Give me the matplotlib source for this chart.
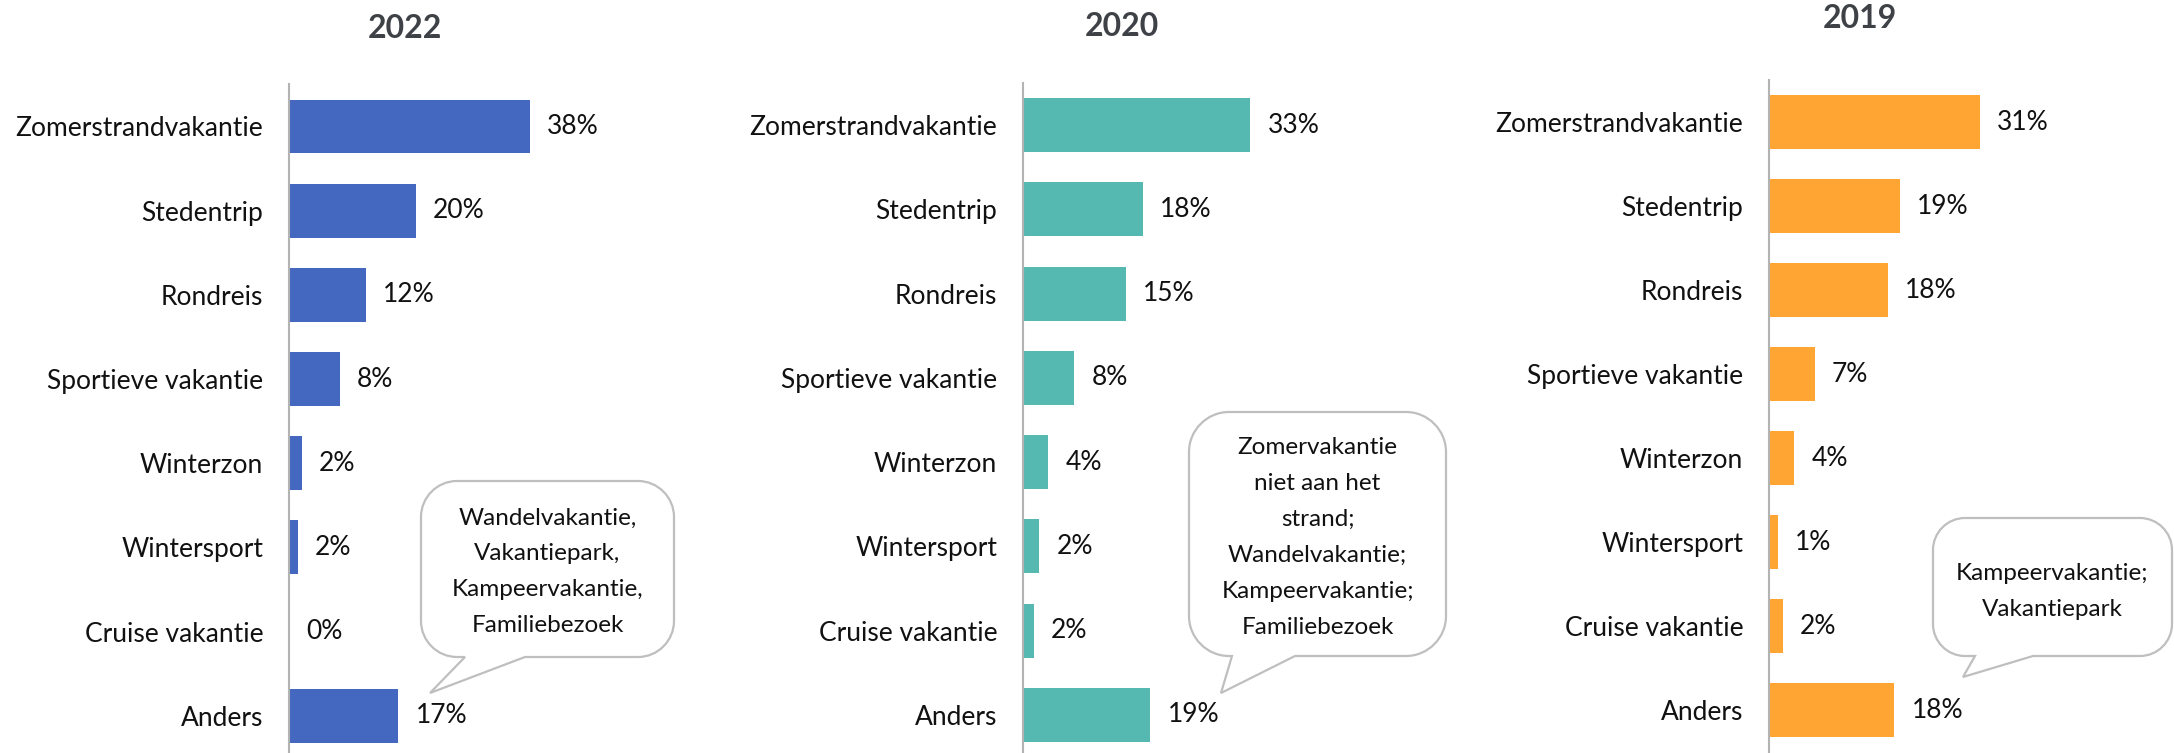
import numpy as np
import matplotlib
matplotlib.use("Agg")
import matplotlib.pyplot as plt
from matplotlib.path import Path
from matplotlib.patches import PathPatch

plt.rcParams['font.family'] = ['Lato', 'DejaVu Sans']

W, H = 2174, 753

categories = ['Zomerstrandvakantie', 'Stedentrip', 'Rondreis', 'Sportieve vakantie',
              'Winterzon', 'Wintersport', 'Cruise vakantie', 'Anders']

# bar lengths (percent), and the printed labels
vals_2022 = [38.0, 20.0, 12.1, 8.0, 2.0, 1.4, 0.0, 17.2]
labels_2022 = [38, 20, 12, 8, 2, 2, 0, 17]
vals_2020 = [33.4, 17.6, 15.1, 7.5, 3.7, 2.4, 1.6, 18.7]
labels_2020 = [33, 18, 15, 8, 4, 2, 2, 19]
vals_2019 = [31.0, 19.2, 17.5, 6.7, 3.7, 1.3, 2.0, 18.4]
labels_2019 = [31, 19, 18, 7, 4, 1, 2, 18]

notes_2022 = ['Wandelvakantie,', 'Vakantiepark,', 'Kampeervakantie,', 'Familiebezoek']
notes_2020 = ['Zomervakantie', 'niet aan het', 'strand;', 'Wandelvakantie;',
              'Kampeervakantie;', 'Familiebezoek']
notes_2019 = ['Kampeervakantie;', 'Vakantiepark']

fig = plt.figure(figsize=(W / 100, H / 100), dpi=100)

# layout of each panel in pixels: axis x, px per %, top, bottom, title pos
panels = [
    ('2022', vals_2022, labels_2022, '#4468BF', 289, 6.34, 84.4, 757.8, (405, 29)),
    ('2020', vals_2020, labels_2020, '#56B9B1', 1023, 6.80, 83.0, 757.0, (1122, 27)),
    ('2019', vals_2019, labels_2019, '#FFA533', 1769, 6.80, 80.0, 752.0, (1860, 18)),
]

for title, vals, labs, color, x0, scale, top, bottom, tpos in panels:
    wpx = 330
    ax = fig.add_axes([x0 / W, 1 - bottom / H, wpx / W, (bottom - top) / H])
    y = np.arange(len(categories))
    ax.barh(y, vals, height=0.64, color=color)
    ax.set_xlim(0, wpx / scale)
    ax.set_ylim(len(categories) - 0.5, -0.5)
    ax.set_yticks(y)
    ax.set_yticklabels(categories, fontsize=19, color='#111111')
    ax.tick_params(axis='y', length=0, pad=18.5)
    ax.set_xticks([])
    for s in ['top', 'right', 'bottom']:
        ax.spines[s].set_visible(False)
    ax.spines['left'].set_color('#B3B3B3')
    ax.spines['left'].set_linewidth(1.5)
    ax.patch.set_alpha(0)
    for v, l, yy in zip(vals, labs, y):
        ax.annotate(f'{l}%', (v, yy), xytext=(12.5, 0), textcoords='offset points',
                    va='center', ha='left', fontsize=19, color='#111111')
    fig.text(tpos[0] / W, 1 - tpos[1] / H, title, ha='center', va='center',
             fontsize=23, fontweight='bold', color='#3E4247')

# overlay in pixel coordinates for the speech bubbles
ov = fig.add_axes([0, 0, 1, 1], zorder=10)
ov.set_xlim(0, W)
ov.set_ylim(H, 0)
ov.axis('off')
ov.patch.set_alpha(0)


def bubble(left, top, right, bottom, r, b1, b2, tip, lines, ly0, dy=36):
    k = 0.55 * r
    verts = [
        (left + r, top), (right - r, top),
        (right - r + k, top), (right, top + r - k), (right, top + r),
        (right, bottom - r),
        (right, bottom - r + k), (right - r + k, bottom), (right - r, bottom),
        (b2, bottom), tip, (b1, bottom), (left + r, bottom),
        (left + r - k, bottom), (left, bottom - r + k), (left, bottom - r),
        (left, top + r),
        (left, top + r - k), (left + r - k, top), (left + r, top),
        (left + r, top),
    ]
    codes = [Path.MOVETO, Path.LINETO,
             Path.CURVE4, Path.CURVE4, Path.CURVE4,
             Path.LINETO,
             Path.CURVE4, Path.CURVE4, Path.CURVE4,
             Path.LINETO, Path.LINETO, Path.LINETO, Path.LINETO,
             Path.CURVE4, Path.CURVE4, Path.CURVE4,
             Path.LINETO,
             Path.CURVE4, Path.CURVE4, Path.CURVE4,
             Path.CLOSEPOLY]
    ov.add_patch(PathPatch(Path(verts, codes), facecolor='white', edgecolor='#BFBFBF',
                           linewidth=1.6, joinstyle='miter', clip_on=False))
    cx = (left + right) / 2
    for i, t in enumerate(lines):
        ov.text(cx, ly0 + i * dy, t, ha='center', va='center', fontsize=17.5,
                color='#111111')


bubble(421, 481, 674, 657, 36, 465, 525, (430, 693), notes_2022, 518)
bubble(1189, 412, 1446, 656, 40, 1232, 1295, (1221, 693), notes_2020, 447)
bubble(1933, 518, 2172, 656, 32, 1975, 2033, (1963, 677), notes_2019, 573)

fig.savefig('out.png', dpi=100)
